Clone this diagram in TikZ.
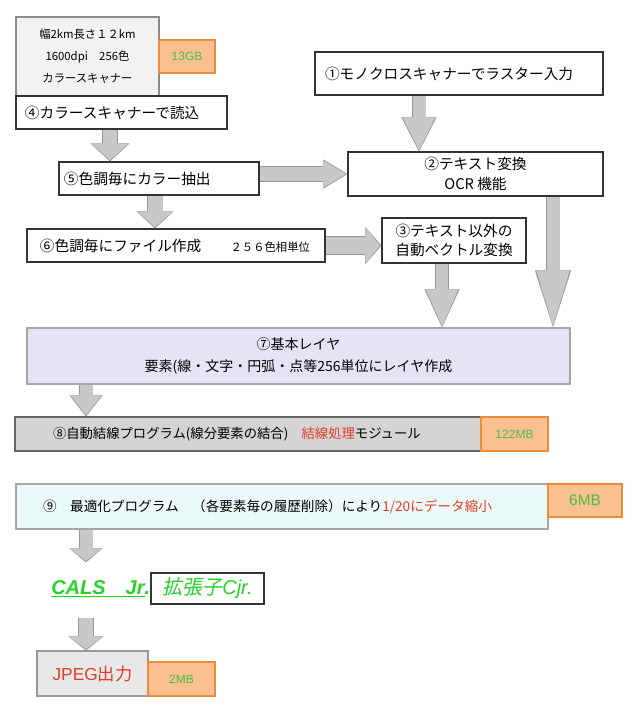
\documentclass[tikz,border=0pt]{standalone}
\usepackage{fontspec}
\setmainfont{Noto Sans CJK JP}
\newfontfamily\latinsans{Liberation Sans}
\newfontfamily\cjkslant[FakeSlant=0.2]{Noto Sans CJK JP}
\usetikzlibrary{arrows.meta,calc}

\definecolor{arrowfill}{RGB}{200,200,200}
\definecolor{arrowline}{RGB}{150,150,150}
\definecolor{orangefill}{RGB}{251,192,143}
\definecolor{orangeline}{RGB}{235,140,60}
\definecolor{sizegreen}{RGB}{70,190,70}
\definecolor{calsgreen}{RGB}{40,210,40}
\definecolor{notered}{RGB}{225,60,40}
\definecolor{layerfill}{RGB}{228,228,246}
\definecolor{linkfill}{RGB}{212,212,212}
\definecolor{optfill}{RGB}{236,249,249}
\definecolor{specfill}{RGB}{242,242,242}
\definecolor{jpegfill}{RGB}{232,232,232}

% block arrow: shaft, head width, head length (px), from, to
\newcommand{\fatarrow}[5]{%
	\pgfmathsetmacro{\fatw}{#1*0.75}%
	\pgfmathsetmacro{\fatwo}{#1*0.75+1.2}%
	\pgfmathsetmacro{\fatW}{#2*0.75}%
	\pgfmathsetmacro{\fatWo}{#2*0.75+2.4}%
	\pgfmathsetmacro{\fatL}{#3*0.75}%
	\pgfmathsetmacro{\fatLo}{#3*0.75+1.6}%
	\draw[line width=\fatwo pt, draw=arrowline, -{Triangle[width=\fatWo pt, length=\fatLo pt, line width=0pt]}] #4 -- #5;
	\draw[line width=\fatw pt, draw=arrowfill, shorten >=1pt, -{Triangle[width=\fatW pt, length=\fatL pt, line width=0pt]}] #4 -- #5;
}

\begin{document}
\begin{tikzpicture}[x=0.75pt, y=-0.75pt,
		boxsize/.style 2 args={minimum width=#1*0.75pt, minimum height=#2*0.75pt},
		leftpad/.style={text width=#1*0.75pt, align=left},
		box/.style={draw=black!80, fill=white, line width=0.8pt, inner sep=0pt, align=center, font=\fontsize{11}{14}\selectfont},
		sizebox/.style={draw=orangeline, fill=orangefill, line width=0.8pt, inner sep=0pt, text=sizegreen, font=\fontsize{9}{11}\latinsans}]
	
	\useasboundingbox (0,0) rectangle (640,719);
	
	% Scanner
	\node[box, boxsize={143}{79}, draw=black!45, fill=specfill, font=\fontsize{8.5}{16.5}\selectfont] (spec) at (87.5,56.5) {幅2km長さ１２km\\1600dpi　256色\\カラースキャナー};
	\node[sizebox, boxsize={56}{33}] (gb13) at (187,56.5) {13GB};
	
	% Steps 1-6
	\node[box, boxsize={211}{33}, leftpad=193] (read) at (121.5,112.5) {④カラースキャナーで読込};
	\node[box, boxsize={288}{43}, leftpad=268] (mono) at (459,73.5) {①モノクロスキャナーでラスター入力};
	\node[box, boxsize={200}{33}, leftpad=190] (extract) at (159,178.5) {⑤色調毎にカラー抽出};
	\node[box, boxsize={255}{44}, font=\fontsize{11}{14.5}\selectfont] (ocr) at (475.5,174) {②テキスト変換\\OCR 機能};
	\node[box, boxsize={298}{33}, leftpad=272] (file) at (176,245.5) {⑥色調毎にファイル作成　　{\fontsize{8.5}{10}\selectfont ２５６色相単位}};
	\node[box, boxsize={144}{45}, font=\fontsize{11}{14.5}\selectfont] (vec) at (454,240.5) {③テキスト以外の\\自動ベクトル変換};
	
	% Layer
	\node[box, boxsize={543}{56}, draw=black!35, fill=layerfill, font=\fontsize{10.5}{16.5}\selectfont] (layer) at (298.5,356) {⑦基本レイヤ\\要素(線・文字・円弧・点等256単位にレイヤ作成};
	
	% Linking
	\node[box, boxsize={466}{34}, leftpad=390, draw=black!60, fill=linkfill, font=\fontsize{10}{12}\selectfont] (link) at (248,434) {⑧自動結線プログラム(線分要素の結合)　\textcolor{notered}{結線処理}モジュール};
	\node[sizebox, boxsize={67}{34}] (mb122) at (514.5,434) {122MB};
	
	% Optimise
	\node[box, boxsize={532}{45}, leftpad=478, draw=black!35, fill=optfill, font=\fontsize{10.2}{12}\selectfont] (opt) at (282,506.5) {⑨　最適化プログラム　（各要素毎の履歴削除）により\textcolor{notered}{1/20にデータ縮小}};
	\node[sizebox, boxsize={74}{33}, font=\fontsize{11.5}{13}\latinsans] (mb6) at (585,500.5) {6MB};
	
	% CALS
	\node[box, boxsize={113}{31}, text=calsgreen, font=\fontsize{15}{18}\cjkslant] (ext) at (207.5,588.5) {拡張子{\latinsans\itshape Cjr.}};
	\node[anchor=east, inner sep=0pt, text=calsgreen, font=\fontsize{15}{18}\latinsans\bfseries\itshape] (cals) at (ext.west) {\underline{CALS\quad Jr}.};
	
	% JPEG
	\node[box, boxsize={111}{45}, draw=black!40, fill=jpegfill, text=notered, font=\fontsize{13}{15}\selectfont] (jpeg) at (92.5,673.5) {{\latinsans JPEG}出力};
	\node[sizebox, boxsize={67}{34}] (mb2) at (181.5,679) {2MB};
	
	% arrow columns
	\coordinate (colA) at (110,0);
	\coordinate (colB) at (155,0);
	\coordinate (colC) at (419,0);
	\coordinate (colD) at (442,0);
	\coordinate (colE) at (553,0);
	\coordinate (colF) at (86,0);
	
	\fatarrow{14}{36}{16}{(read.south -| colA)}{(extract.north -| colA)}
	\fatarrow{15}{34}{15}{(extract.south -| colB)}{(file.north -| colB)}
	\fatarrow{14}{26}{22}{(extract.east |- ocr.west)}{(ocr.west)}
	\fatarrow{13}{32}{32}{(mono.south -| colC)}{(ocr.north -| colC)}
	\fatarrow{17}{34}{14}{(file.east)}{(vec.west |- file.east)}
	\fatarrow{12}{32}{36}{(vec.south -| colD)}{(layer.north -| colD)}
	\fatarrow{13}{33}{55}{(ocr.south -| colE)}{(layer.north -| colE)}
	\fatarrow{13}{30}{19}{(layer.south -| colF)}{(link.north -| colF)}
	\fatarrow{13}{30}{12}{(opt.south -| colF)}{($(ext.north -| colF)+(0,-10)$)}
	\fatarrow{14}{32}{12}{($(ext.south -| colF)+(0,13)$)}{(jpeg.north -| colF)}
\end{tikzpicture}
\end{document}
